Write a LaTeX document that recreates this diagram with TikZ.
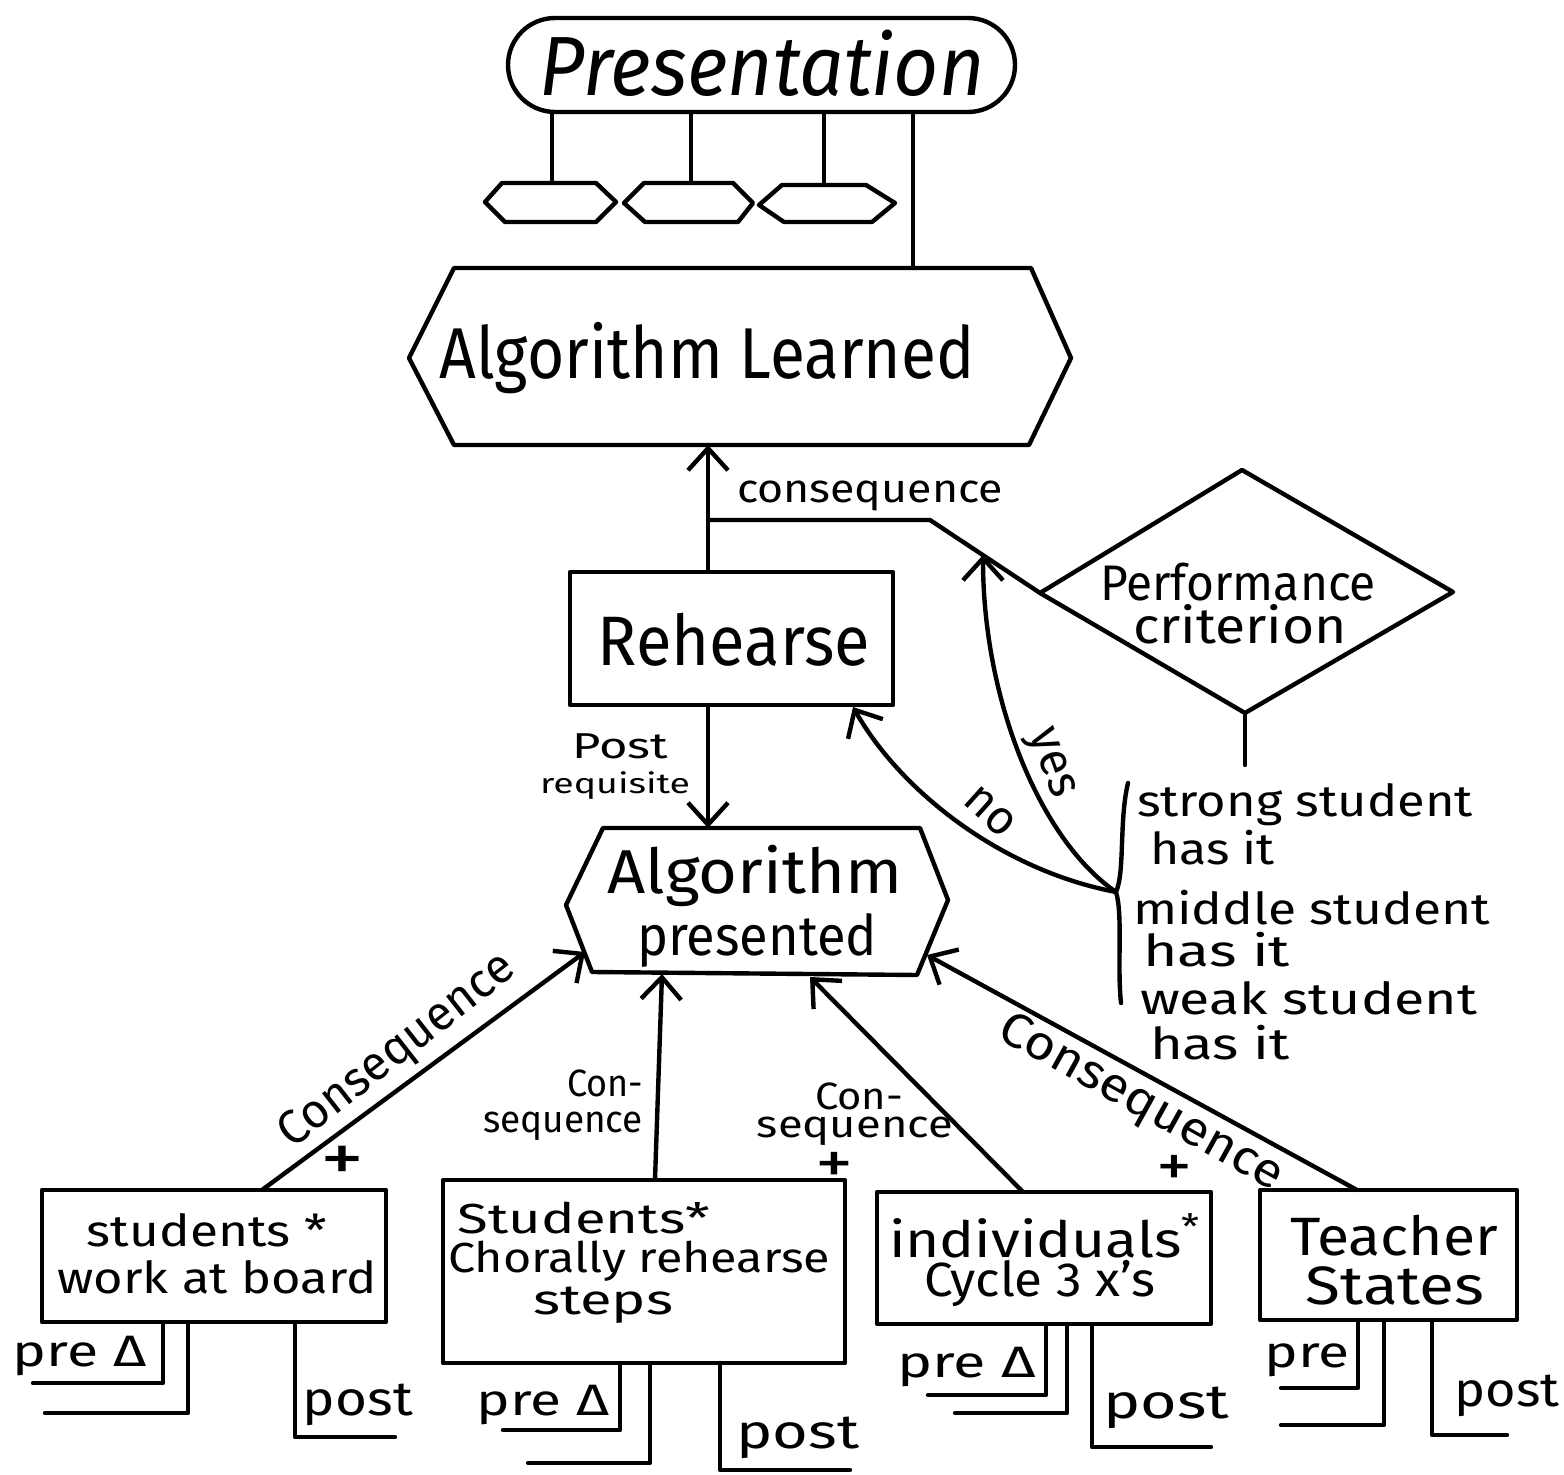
\documentclass[tikz,border=0pt]{standalone}
\usepackage{fontspec}
\setmainfont{Fira Sans}
\usetikzlibrary{arrows.meta,calc}
\newdimen\pxu \pxu=0.5pt
% \ft{width in px}{font size}{text}: font size fixes the height, width is fitted
\newcommand{\ft}[3]{\resizebox{#1\pxu}{\height}{\fontsize{#2}{#2}\selectfont #3}}
\begin{document}
\begin{tikzpicture}[x=0.5pt,y=-0.5pt, line width=2.2pt, line join=round, line cap=round,
  box/.style={draw, rectangle, inner sep=0pt, outer sep=0pt},
  lbl/.style={inner sep=0pt, outer sep=0pt},
  arr/.style={-{Straight Barb[length=11pt,width=20pt]}}]
\fill[white] (0,0) rectangle (1564,1475);
\useasboundingbox (0,0) rectangle (1564,1475);

% ---------- Presentation ----------
\node[box, rounded corners=23.5pt, minimum width=253.5pt, minimum height=47pt] (pres) at (761.5,65) {};
\node[lbl] (prest) at (762,63) {\ft{445}{42pt}{\itshape Presentation}};

% small hexagons
\draw (485,202) -- (502,183) -- (596,183) -- (616,202) -- (596,222) -- (505,222) -- cycle;
\draw (624,203) -- (644,183) -- (733,183) -- (753,203) -- (738,222) -- (645,222) -- cycle;
\draw (759,205) -- (782,185) -- (866,185) -- (895,203) -- (872,222) -- (784,222) -- cycle;
\coordinate (h1) at (552,183);
\coordinate (h2) at (691,183);
\coordinate (h3) at (824,185);
\draw (552,0 |- pres.south) -- (h1);
\draw (691,0 |- pres.south) -- (h2);
\draw (824,0 |- pres.south) -- (h3);

% ---------- Algorithm Learned ----------
\draw (454,268) -- (1031,268) -- (1071,358) -- (1029,445) -- (454,445) -- (409,358) -- cycle;
\coordinate (alt) at (913,268);
\coordinate (alb) at (708,445);
\node[lbl] (altext) at (707,358) {\ft{535}{36pt}{Algorithm Learned}};
\draw (913,0 |- pres.south) -- (alt);

% ---------- Rehearse ----------
\node[box, minimum width=161.5pt, minimum height=66.5pt] (reh) at (731.5,638.5) {};
\node[lbl] (reht) at (734,640) {\ft{272}{35pt}{Rehearse}};
\draw[arr] (708,0 |- reh.north) -- (alb);
\coordinate (cq1) at (708,520);
\coordinate (cq2) at (930,520);
\coordinate (yestip) at (983,555);
\node[lbl] (cqt) at (870,496) {\ft{266}{20pt}{consequence}};

% ---------- Performance criterion ----------
\coordinate (pct) at (1242,470);
\coordinate (pcr) at (1453,592);
\coordinate (pcb) at (1245,713);
\coordinate (pcl) at (1040,593);
\coordinate (pcs) at (1245,765);
\draw (pct) -- (pcr) -- (pcb) -- (pcl) -- cycle;
\draw (cq1) -- (cq2) -- (pcl);
\draw (pcb) -- (pcs);
\node[lbl] (perf) at (1238,582) {\ft{276}{25pt}{Performance}};
\node[lbl] (crit) at (1240,624) {\ft{214}{25pt}{criterion}};

% bracket and list
\coordinate (br) at (1116,892);
\draw (1128,783) .. controls (1119,820) and (1125,872) .. (br) .. controls (1123,915) and (1117,965) .. (1121,1003);
\node[lbl, anchor=west] (s1) at (1137,805) {\ft{336}{22pt}{strong student}};
\node[lbl, anchor=west] (s2) at (1150,848) {\ft{125}{22pt}{has it}};
\node[lbl, anchor=west] (s3) at (1133,908) {\ft{357}{22pt}{middle student}};
\node[lbl, anchor=west] (s4) at (1143,950) {\ft{147}{22pt}{has it}};
\node[lbl, anchor=west] (s5) at (1140,998) {\ft{337}{22pt}{weak student}};
\node[lbl, anchor=west] (s6) at (1150,1043) {\ft{140}{22pt}{has it}};

% yes / no
\coordinate (notip) at (853,707);
\draw[arr] (br) .. controls (1040,840) and (983,700) .. (yestip);
\draw[arr] (br) .. controls (1000,870) and (900,790) .. (notip);
\node[lbl, rotate=-70] (yes) at (1049,764) {\ft{70}{24pt}{yes}};
\node[lbl, rotate=-42] (no) at (990,812) {\ft{55}{24pt}{no}};

% ---------- Algorithm presented ----------
\coordinate (apt) at (708,828);
\draw (603,828) -- (920,828) -- (948,900) -- (917,975) -- (592,972) -- (566,905) -- cycle;
\node[lbl] (ap1t) at (755,876) {\ft{295}{31pt}{Algorithm}};
\node[lbl] (ap2t) at (757,940) {\ft{240}{28pt}{presented}};
\draw[arr] (708,0 |- reh.south) -- (apt);
\node[lbl] (postr) at (620,746) {\ft{96}{18pt}{Post}};
\node[lbl] (req) at (615,786) {\ft{150}{14pt}{requisite}};

% ---------- bottom boxes ----------
\node[box, minimum width=172pt, minimum height=66pt] (b1) at (214,1256) {};
\node[box, minimum width=201pt, minimum height=91.5pt] (b2) at (644,1271.5) {};
\node[box, minimum width=167pt, minimum height=66pt] (b3) at (1044,1258) {};
\node[box, minimum width=128.5pt, minimum height=65pt] (b4) at (1388.5,1255) {};

\node[lbl] (b1a) at (207,1230) {\ft{240}{22pt}{students *}};
\node[lbl] (b1b) at (217,1277) {\ft{319}{22pt}{work at board}};
\node[lbl] (b2a) at (584,1218) {\ft{252}{21pt}{Students*}};
\node[lbl] (b2b) at (639,1261) {\ft{382}{21pt}{Chorally rehearse}};
\node[lbl] (b2c) at (603,1305) {\ft{140}{21pt}{steps}};
\node[lbl] (b3a) at (1045,1236) {\ft{312}{25pt}{individuals\textsuperscript{*}}};
\node[lbl] (b3b) at (1040,1284) {\ft{231}{24pt}{Cycle 3 x's}};
\node[lbl] (b4a) at (1394,1236) {\ft{208}{27pt}{Teacher}};
\node[lbl] (b4b) at (1395,1286) {\ft{179}{27pt}{States}};

% arrows to Algorithm presented
\coordinate (ap1) at (585,952);
\coordinate (ap2) at (662,974);
\coordinate (ap3) at (810,977);
\coordinate (ap4) at (927,955);
\draw[arr] (262,0 |- b1.north) -- (ap1);
\draw[arr] (655,0 |- b2.north) -- (ap2);
\draw[arr] (1023,0 |- b3.north) -- (ap3);
\draw[arr] (1357,0 |- b4.north) -- (ap4);

\node[lbl, rotate=38] (c1) at (398,1052) {\ft{287}{24pt}{Consequence}};
\node[lbl] (c2a) at (605,1083) {\ft{76}{19pt}{Con-}};
\node[lbl] (c2b) at (563,1126) {\ft{160}{19pt}{sequence}};
\node[lbl] (c3a) at (859,1096) {\ft{88}{19pt}{Con-}};
\node[lbl] (c3b) at (855,1131) {\ft{196}{19pt}{sequence}};
\node[lbl, rotate=-29] (c4) at (1140,1104) {\ft{318}{24pt}{Consequence}};

\node[lbl] (p1) at (342,1164) {\ft{44}{34pt}{+}};
\node[lbl] (p2) at (834,1168) {\ft{38}{30pt}{+}};
\node[lbl] (p3) at (1174,1171) {\ft{36}{30pt}{+}};

% pre / post brackets
\draw (163,0 |- b1.south) -- (163,1383) -- (33,1383);
\draw (188,0 |- b1.south) -- (188,1413) -- (45,1413);
\draw (295,0 |- b1.south) -- (295,1437) -- (395,1437);
\node[lbl] (b1pre) at (80,1356) {\ft{134}{22pt}{pre Δ}};
\node[lbl] (b1post) at (358,1405) {\ft{110}{24pt}{post}};

\draw (620,0 |- b2.south) -- (620,1430) -- (503,1430);
\draw (650,0 |- b2.south) -- (650,1463) -- (528,1463);
\draw (720,0 |- b2.south) -- (720,1470) -- (850,1470);
\node[lbl] (b2pre) at (543,1405) {\ft{133}{22pt}{pre Δ}};
\node[lbl] (b2post) at (798,1438) {\ft{123}{24pt}{post}};

\draw (1046,0 |- b3.south) -- (1046,1395) -- (928,1395);
\draw (1067,0 |- b3.south) -- (1067,1413) -- (955,1413);
\draw (1092,0 |- b3.south) -- (1092,1447) -- (1211,1447);
\node[lbl] (b3pre) at (967,1367) {\ft{139}{22pt}{pre Δ}};
\node[lbl] (b3post) at (1166,1408) {\ft{126}{24pt}{post}};

\draw (1358,0 |- b4.south) -- (1358,1388) -- (1281,1388);
\draw (1384,0 |- b4.south) -- (1384,1425) -- (1281,1425);
\draw (1432,0 |- b4.south) -- (1432,1435) -- (1507,1435);
\node[lbl] (b4pre) at (1307,1360) {\ft{85}{22pt}{pre}};
\node[lbl] (b4post) at (1507,1396) {\ft{105}{24pt}{post}};
\end{tikzpicture}
\end{document}
